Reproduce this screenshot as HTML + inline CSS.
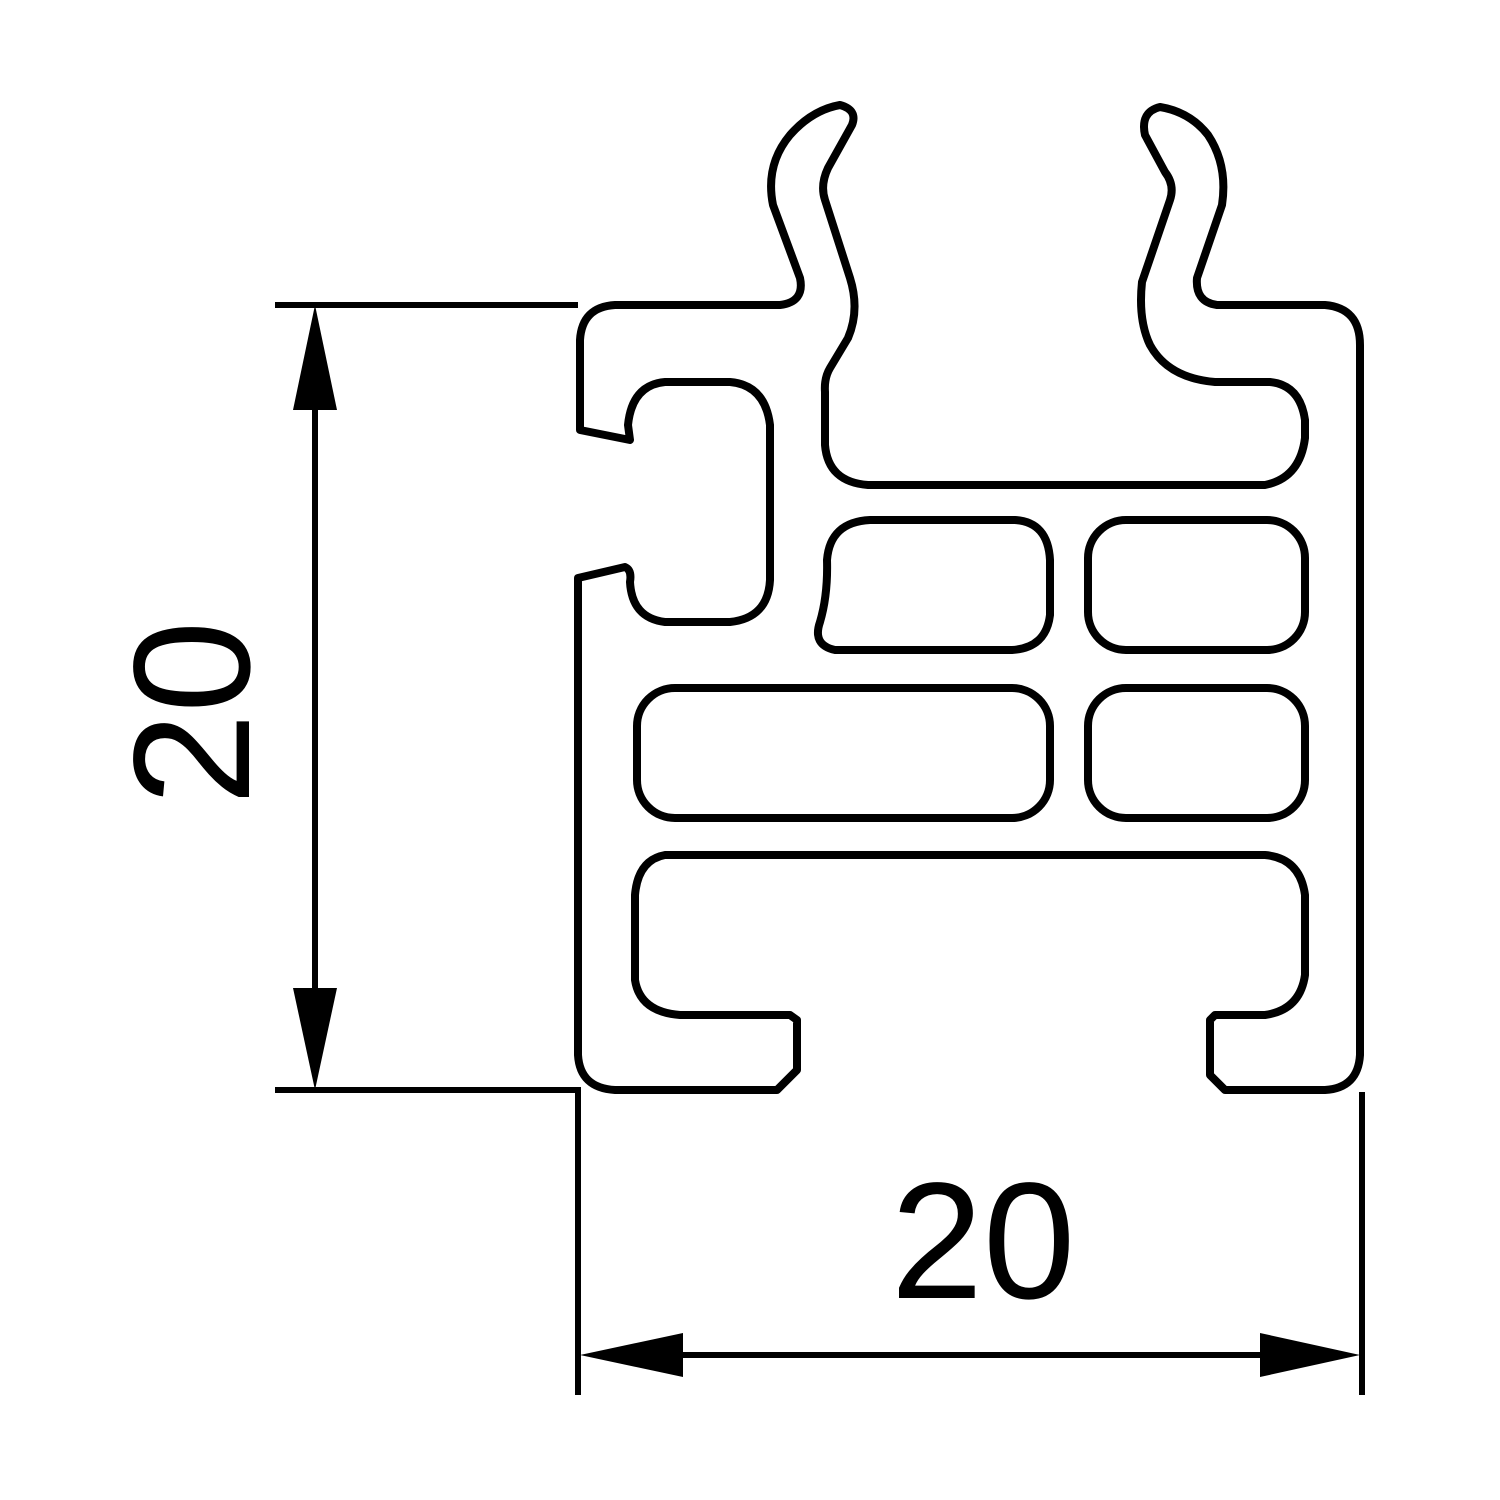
<!DOCTYPE html>
<html><head><style>html,body{margin:0;padding:0;background:#fff}svg{display:block}</style></head>
<body>
<svg width="1500" height="1500" viewBox="0 0 1500 1500" xmlns="http://www.w3.org/2000/svg">
<g fill="none" stroke="#000" stroke-width="8" stroke-linejoin="round">
<path d="M615,305 L780,305 Q805,302 800,278 L773,205 Q765,165 790,135 Q812,110 840,105 Q858,110 852,125 L828,168 Q820,185 825,200 L850,278 Q860,310 848,338 L830,368 Q824,378 825,392 L825,445 Q828,482 868,485 L1265,485 Q1300,478 1305,438 L1305,420 Q1300,385 1270,382 L1215,382 Q1168,378 1150,345 Q1138,320 1142,282 L1170,200 Q1175,185 1165,172 L1145,135 Q1140,112 1160,107 Q1190,112 1208,135 Q1228,165 1222,205 L1197,278 Q1195,302 1217,305 L1325,305 Q1360,308 1360,345 L1360,1055 Q1358,1088 1325,1090 L1225,1090 L1210,1075 L1210,1020 L1215,1015 L1265,1015 Q1300,1010 1305,975 L1305,895 Q1300,858 1265,855 L665,855 Q638,860 635,895 L635,980 Q640,1012 680,1015 L790,1015 L797,1020 L797,1070 L777,1090 L615,1090 Q580,1088 578,1055 L578,578 L625,567 Q632,570 630,582 Q632,618 665,622 L730,622 Q768,618 770,580 L770,425 Q765,385 730,382 L665,382 Q632,385 628,425 L630,440 L580,430 L580,340 Q582,307 615,305 Z"/>
<path d="M870,520 L1015,520 Q1048,522 1050,560 L1050,615 Q1046,648 1012,650 L835,650 Q812,645 820,622 Q828,595 827,560 Q830,522 870,520 Z"/>
<rect x="1088" y="520" width="217" height="130" rx="38"/>
<rect x="637" y="688" width="413" height="130" rx="38"/>
<rect x="1088" y="688" width="217" height="130" rx="38"/>
</g>
<g stroke="#000" stroke-width="6" fill="none">
<path d="M275,305 L578,305 M275,1090 L578,1090 L578,1395 M1362,1092 L1362,1395 M315,400 L315,1000 M670,1355 L1270,1355"/>
</g>
<g fill="#000">
<polygon points="315,305 293,410 337,410"/>
<polygon points="315,1090 293,988 337,988"/>
<polygon points="580,1355 683,1333 683,1377"/>
<polygon points="1360,1355 1260,1333 1260,1377"/>
</g>
<text x="983" y="1298" font-family="Liberation Sans, sans-serif" font-size="166" text-anchor="middle">20</text>
<text transform="translate(249,713) rotate(-90)" font-family="Liberation Sans, sans-serif" font-size="166" text-anchor="middle">20</text>
</svg>
</body></html>
